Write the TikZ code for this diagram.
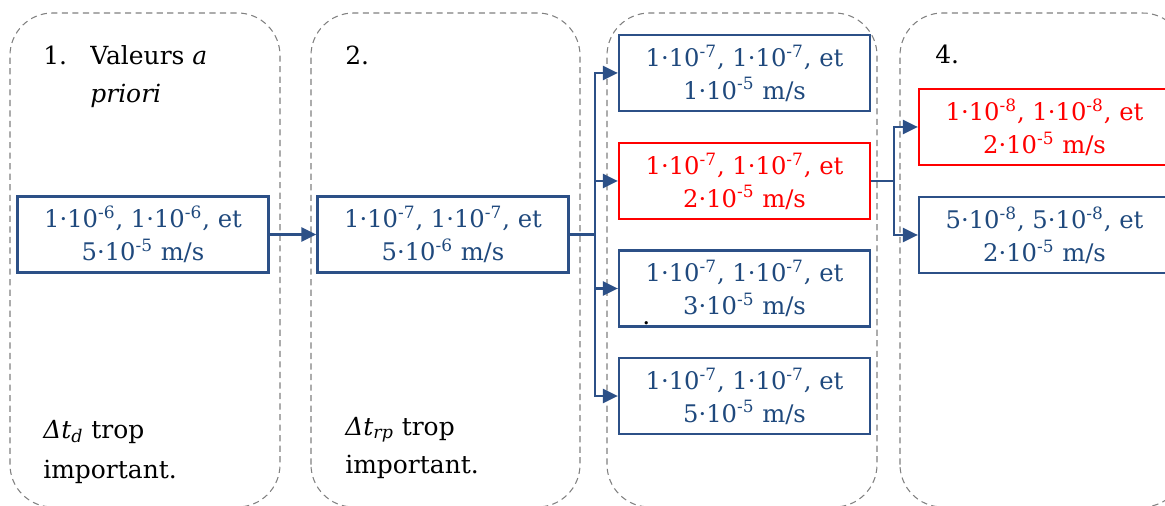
\documentclass[tikz,border=0pt]{standalone}
\usepackage{fontspec}
\setmainfont{DejaVu Serif}
\usetikzlibrary{arrows.meta,positioning}
\definecolor{boxblue}{RGB}{31,73,125}
\definecolor{edgeblue}{RGB}{44,80,135}
\definecolor{stagegray}{RGB}{128,128,128}

\newcommand{\puiss}[2]{#1·10\textsuperscript{#2}}

\tikzset{
  stagebox/.style={draw=stagegray, dash pattern=on 3.5pt off 2.5pt, line width=0.6pt, rounded corners=0.85cm},
  valbox/.style={draw=edgeblue, line width=1.3pt, text=boxblue, minimum width=5.02cm, minimum height=1.52cm,
    align=center, inner sep=0pt, font=\fontsize{13.8}{18.7}\selectfont},
  bestbox/.style={valbox, draw=red, text=red},
  stagetext/.style={anchor=base west, inner sep=0pt, font=\fontsize{14.2}{18.7}\selectfont},
  link/.style={draw=edgeblue, line width=1.3pt},
  linkarrow/.style={link, -{Triangle[length=8.5pt,width=8pt]}}
}

\begin{document}
\begin{tikzpicture}
\useasboundingbox (0,0) rectangle (23.3,10.1);

% Stage frames
\foreach \x/\w in {0.2/5.4, 6.22/5.38, 12.14/5.4, 18.0/5.7} {
  \draw[stagebox] (\x,-0.04) rectangle ++(\w,9.88);
}

% Stage labels
\node[stagetext] (n1) at (0.86,8.8) {1.};
\node[stagetext] (t1a) at (1.8,8.8) {Valeurs \textit{a}};
\node[stagetext] (t1b) at (1.8,8.05) {\textit{priori}};
\node[stagetext] (n2) at (6.9,8.8) {2.};
\node[stagetext] (n4) at (18.7,8.82) {4.};

% Remarks at the bottom
\node[stagetext] (r1a) at (0.86,1.34) {\textit{Δt}\textsubscript{\textit{d}} trop};
\node[stagetext] (r1b) at (0.86,0.54) {important.};
\node[stagetext] (r2a) at (6.9,1.40) {\textit{Δt}\textsubscript{\textit{rp}} trop};
\node[stagetext] (r2b) at (6.9,0.64) {important.};

% Stage 1 and 2
\node[valbox] (v1) at (2.86,5.41) {\puiss{1}{-6}, \puiss{1}{-6}, et\\\puiss{5}{-5} m/s};
\node[valbox] (v2) at (8.86,5.41) {\puiss{1}{-7}, \puiss{1}{-7}, et\\\puiss{5}{-6} m/s};

% Stage 3
\node[valbox] (v3a) at (14.89,8.64) {\puiss{1}{-7}, \puiss{1}{-7}, et\\\puiss{1}{-5} m/s};
\node[bestbox] (v3b) at (14.89,6.48) {\puiss{1}{-7}, \puiss{1}{-7}, et\\\puiss{2}{-5} m/s};
\node[valbox] (v3c) at (14.89,4.33) {\puiss{1}{-7}, \puiss{1}{-7}, et\\\puiss{3}{-5} m/s};
\node[valbox] (v3d) at (14.89,2.18) {\puiss{1}{-7}, \puiss{1}{-7}, et\\\puiss{5}{-5} m/s};
\node[stagetext] (dot) at (12.84,3.6) {.};

% Stage 4
\node[bestbox] (v4a) at (20.89,7.56) {\puiss{1}{-8}, \puiss{1}{-8}, et\\\puiss{2}{-5} m/s};
\node[valbox] (v4b) at (20.89,5.40) {\puiss{5}{-8}, \puiss{5}{-8}, et\\\puiss{2}{-5} m/s};

% Connectors
\draw[linkarrow] (v1) -- (v2);

\coordinate[right=0.5cm of v2.east] (bus3);
\draw[link] (v2.east) -- (bus3);
\foreach \n in {v3a,v3b,v3c,v3d} {
  \draw[linkarrow] (bus3) |- (\n.west);
}

\coordinate[right=0.46cm of v3b.east] (bus4);
\draw[link] (v3b.east) -- (bus4);
\foreach \n in {v4a,v4b} {
  \draw[linkarrow] (bus4) |- (\n.west);
}

\end{tikzpicture}
\end{document}
